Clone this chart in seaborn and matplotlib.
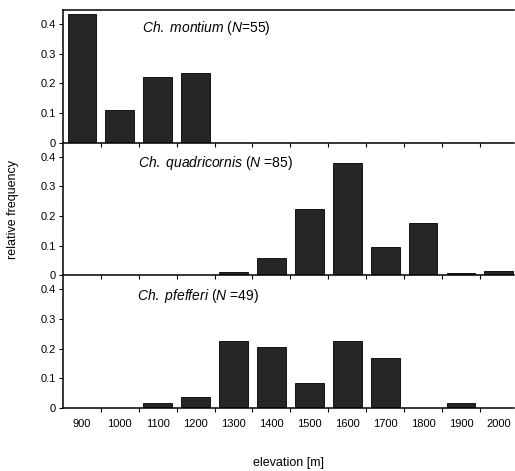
#!/usr/bin/env python3

import matplotlib
matplotlib.use("Agg")
from matplotlib import rcParams, pyplot as plt
import seaborn as sns

sns.set_style("ticks")
rcParams["font.family"] = ["Liberation Sans", "DejaVu Sans"]
rcParams["mathtext.fontset"] = "custom"
rcParams["mathtext.rm"] = "Liberation Sans"
rcParams["mathtext.it"] = "Liberation Sans:italic"
for k in ["text.color", "axes.labelcolor", "xtick.color", "ytick.color", "axes.edgecolor"]:
    rcParams[k] = "black"

elevation = ["900", "1000", "1100", "1200", "1300", "1400",
             "1500", "1600", "1700", "1800", "1900", "2000"]
montium = [0.435, 0.11, 0.22, 0.233, 0, 0, 0, 0, 0, 0, 0, 0]
quadricornis = [0, 0, 0, 0, 0.012, 0.059, 0.224, 0.378, 0.095, 0.175, 0.008, 0.014]
pfefferi = [0, 0, 0.018, 0.037, 0.226, 0.204, 0.085, 0.226, 0.168, 0, 0.016, 0]

titles = [r"$\mathit{Ch.\ montium}$ ($\mathit{N}$=55)",
          r"$\mathit{Ch.\ quadricornis}$ ($\mathit{N}$ =85)",
          r"$\mathit{Ch.\ pfefferi}$ ($\mathit{N}$ =49)"]
series = [montium, quadricornis, pfefferi]
title_pos = [(0.317, 0.862), (0.339, 0.847), (0.299, 0.845)]

fig = plt.figure(figsize=(5.15, 4.71), dpi=100)
left, right, top, bottom = 0.1223, 0.998, 0.9788, 0.1338
h = (top - bottom) / 3

for i, (vals, title) in enumerate(zip(series, titles)):
    ax = fig.add_axes([left, top - (i + 1) * h, right - left, h])
    ax.set_facecolor("none")
    sns.barplot(x=elevation, y=vals, ax=ax, color="#262626",
                edgecolor="black", linewidth=0.6, width=0.76, saturation=1)
    ax.set_xlim(-0.5, 11.4)
    ax.set_ylim(0, 0.447)
    ax.set_yticks([0, 0.1, 0.2, 0.3, 0.4])
    ax.set_yticklabels(["0", "0.1", "0.2", "0.3", "0.4"], fontsize=8)
    # tick marks between the categories, labels under the bars
    ax.set_xticks([k + 0.5 for k in range(11)])
    ax.set_xticklabels([])
    ax.set_xticks(range(12), minor=True)
    ax.tick_params(axis="x", which="minor", length=0)
    ax.tick_params(axis="both", which="major", length=3, width=0.8, direction="out", pad=2)
    if i == 2:
        ax.set_xticklabels(elevation, minor=True, fontsize=8)
        ax.tick_params(axis="x", which="minor", pad=8)
    for s in ["left", "bottom"]:
        ax.spines[s].set_linewidth(1.1)
    ax.spines["right"].set_visible(False)
    ax.spines["top"].set_visible(i == 0)
    ax.spines["top"].set_linewidth(1.1)
    ax.set_xlabel("")
    ax.set_ylabel("")
    ax.text(title_pos[i][0], title_pos[i][1], title, transform=ax.transAxes,
            ha="center", va="center", fontsize=10)

fig.text(0.025, 0.555, "relative frequency", rotation=90, ha="center", va="center", fontsize=9)
fig.text(0.56, 0.017, "elevation [m]", ha="center", va="center", fontsize=9)

fig.savefig("out.png", dpi=100)
